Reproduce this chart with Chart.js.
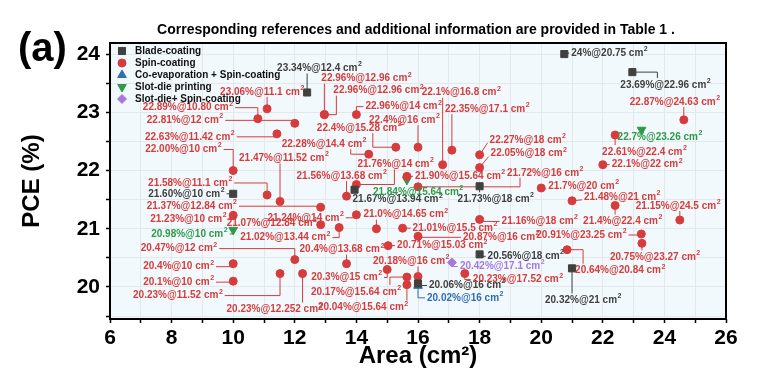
<!DOCTYPE html>
<html>
<head>
<meta charset="utf-8">
<script src="https://cdn.jsdelivr.net/npm/chart.js@4.4.1/dist/chart.umd.min.js"></script>
<style>
  html, body { margin: 0; padding: 0; background: #fff; }
</style>
</head>
<body>
<canvas id="chart" width="758" height="372"></canvas>
<script>
// Values (PCE % and area cm2). Kept as text so the labels keep their digits.
const bladePce  = ['23.34', '24', '23.69', '21.60', '21.67', '21.73', '20.56', '20.06', '20.32'];
const bladeArea = ['12.4', '20.75', '22.96', '10', '13.94', '18', '18', '16', '21'];

const spinPce = ['23.06', '22.89', '22.81', '22.63', '22.00', '21.47', '21.58', '21.37', '21.23', '21.24',
                 '21.07', '21.02', '20.47', '20.4', '20.1', '20.23', '20.23', '22.96', '22.96', '22.96',
                 '22.4', '22.4', '22.28', '22.1', '22.35', '21.76', '21.56', '21.90', '22.27', '22.05',
                 '21.72', '21.7', '22.87', '22.61', '22.1', '21.48', '21.15', '21.4', '20.91', '20.75',
                 '20.64', '21.0', '21.01', '21.16', '20.87', '20.71', '20.4', '20.3', '20.18', '20.17',
                 '20.04', '20.23'];
const spinArea = ['11.1', '10.80', '12', '11.42', '10', '11.52', '11.1', '12.84', '10', '14',
                  '12.84', '13.44', '12', '10', '10', '11.52', '12.252', '12.96', '12.96', '14',
                  '16', '15.28', '14.4', '16.8', '17.1', '14', '13.68', '15.64', '18', '18',
                  '16', '20', '24.63', '22.4', '22', '21', '24.5', '22.4', '23.25', '23.27',
                  '20.84', '14.65', '15.5', '18', '16', '15.03', '13.68', '15', '16', '15.64',
                  '15.64', '17.52'];

const coevapPce = ['20.02'];
const coevapArea = ['16'];

const slotPce = ['22.7', '21.84', '20.98'];
const slotArea = ['23.26', '15.64', '10'];

const slotSpinPce = ['20.42'];
const slotSpinArea = ['17.1'];

const xTicks = [6, 7, 8, 9, 10, 11, 12, 13, 14, 15, 16, 17, 18, 19, 20, 21, 22, 23, 24, 25, 26];
const yTicks = [19.5, 20, 20.5, 21, 21.5, 22, 22.5, 23, 23.5, 24];

// Label placement: [dx, dy, connector, elbow x] in pixels from the point
const bladeLabelPos = [[-30, -24], [7, -1], [-12, 13, 'hv', 25], [-85, 0], [-2, 10], [-22, 13], [8, 2], [11, 2], [-27, 32]];
const spinLabelPos = [
  [-47, -17], [-115, -11], [-148, -3], [-132, 3], [-88, -21], [-41, -43], [-119, -12], [-174, -1], [-83, 4], [-89, 3],
  [-94, -1], [-99, 10], [-154, -11], [-90, 3], [-90, 1], [-147, 22], [-76, 36], [-3, -36], [9, -24, 'hv', 12], [9, -8],
  [-49, -27], [-79, -19, 'hv', -23], [-87, -10, 'hv', -18], [-21, -72], [-7, -41], [1, -20, 'hv', 38], [-50, -20], [8, 0], [10, -15, 'line'], [11, -14, 'line'],
  [89, -14, 'hv', 102], [7, -2, 'line'], [-54, -18], [-13, 17], [9, 0], [12, -4, 'line'], [-44, -14], [-32, 16], [-105, 1], [-32, 14],
  [8, 21, 'hv', 16], [-13, -14], [10, 0], [22, 2], [45, 1], [9, 0], [-47, -14], [-76, 8], [-45, -15], [-96, 15, 'hv', -17],
  [-89, 23], [8, 6]
];
const coevapLabelPos = [[9, 12]];
const slotLabelPos = [[-24, 7], [-34, 12], [-82, 4]];
const slotSpinLabelPos = [[8, 4]];

const series = [
  { name: 'Blade-coating', pce: bladePce, area: bladeArea, pos: bladeLabelPos, color: '#404040', style: 'rect', radius: 5, rotation: 0 },
  { name: 'Spin-coating', pce: spinPce, area: spinArea, pos: spinLabelPos, color: '#d63c3c', style: 'circle', radius: 4, rotation: 0 },
  { name: 'Co-evaporation + Spin-coating', pce: coevapPce, area: coevapArea, pos: coevapLabelPos, color: '#2f6db5', style: 'triangle', radius: 5, rotation: 0 },
  { name: 'Slot-die printing', pce: slotPce, area: slotArea, pos: slotLabelPos, color: '#2e9a48', style: 'triangle', radius: 5, rotation: 180 },
  { name: 'Slot-die+ Spin-coating', pce: slotSpinPce, area: slotSpinArea, pos: slotSpinLabelPos, color: '#a678e0', style: 'rectRot', radius: 4.5, rotation: 0 }
];

const FONT = 'Arial, "Liberation Sans", sans-serif';

function labelText(s, i) {
  return s.pce[i] + '%@' + s.area[i] + ' cm';
}

function labelWidth(ctx, text) {
  ctx.font = 'bold 10px ' + FONT;
  const w = ctx.measureText(text).width;
  ctx.font = 'bold 7px ' + FONT;
  return w + 0.5 + ctx.measureText('2').width;
}

// boxes for every label, worked out from the point pixels
function labelBoxes(chart) {
  const ctx = chart.ctx;
  const out = [];
  series.forEach((s, si) => {
    const meta = chart.getDatasetMeta(si);
    s.pce.forEach((p, i) => {
      const pt = meta.data[i];
      const [dx, dy, kind, cx] = s.pos[i];
      const text = labelText(s, i);
      const w = labelWidth(ctx, text);
      out.push({ s, text, px: pt.x, py: pt.y, left: pt.x + dx, right: pt.x + dx + w, cy: pt.y + dy, kind, cx });
    });
  });
  return out;
}

const annotate = {
  id: 'annotate',
  beforeDraw(chart) {
    const { ctx, chartArea: a } = chart;
    ctx.save();
    ctx.fillStyle = '#f2f9fd';
    ctx.fillRect(a.left, a.top, a.right - a.left, a.bottom - a.top);
    ctx.restore();
  },
  beforeDatasetsDraw(chart) {
    const ctx = chart.ctx;
    ctx.save();
    ctx.lineWidth = 1;
    labelBoxes(chart).forEach(b => {
      ctx.strokeStyle = b.s.color;
      const above = b.cy < b.py;
      const edgeY = above ? b.cy + 5 : b.cy - 7;
      ctx.beginPath();
      ctx.moveTo(b.px, b.py);
      if (b.kind === 'line') {
        ctx.lineTo(b.left - 2, b.cy + 3);
      } else if (b.kind === 'hv') {
        ctx.lineTo(b.px + b.cx, b.py);
        ctx.lineTo(b.px + b.cx, edgeY);
      } else if (b.px >= b.left && b.px <= b.right) {
        ctx.lineTo(b.px, edgeY);
      } else {
        ctx.lineTo(b.px, b.cy);
        ctx.lineTo(b.px < b.left ? b.left - 2 : b.right + 2, b.cy);
      }
      ctx.stroke();
    });
    ctx.restore();
  },
  afterDatasetsDraw(chart) {
    const { ctx, chartArea: a } = chart;
    ctx.save();
    // point labels
    ctx.textAlign = 'left';
    ctx.textBaseline = 'middle';
    labelBoxes(chart).forEach(b => {
      ctx.fillStyle = b.s.color;
      ctx.font = 'bold 10px ' + FONT;
      ctx.fillText(b.text, b.left, b.cy);
      const w = ctx.measureText(b.text).width;
      ctx.font = 'bold 7px ' + FONT;
      ctx.fillText('2', b.left + w + 0.5, b.cy - 4);
    });

    // legend
    series.forEach((s, i) => {
      const y = 51 + i * 12;
      ctx.fillStyle = s.color;
      ctx.strokeStyle = s.color;
      ctx.lineWidth = 1;
      Chart.helpers.drawPoint(ctx, { pointStyle: s.style, radius: s.radius, rotation: s.rotation, borderWidth: 1 }, 122, y);
      ctx.fillStyle = '#111';
      ctx.font = 'bold 10px ' + FONT;
      ctx.fillText(s.name, 135, y);
    });

    // frame
    ctx.strokeStyle = '#000';
    ctx.lineWidth = 2;
    ctx.strokeRect(a.left, a.top, a.right - a.left, a.bottom - a.top);
    ctx.restore();
  },
  afterDraw(chart) {
    const ctx = chart.ctx;
    ctx.save();
    ctx.fillStyle = '#000';
    ctx.textBaseline = 'middle';
    ctx.textAlign = 'center';
    ctx.font = 'bold 14px ' + FONT;
    ctx.fillText('Corresponding references and additional information are provided in Table 1 .', 416, 30);
    ctx.textAlign = 'left';
    ctx.font = 'bold 40px ' + FONT;
    ctx.fillText('(a)', 18, 50);
    ctx.restore();
  }
};

new Chart(document.getElementById('chart'), {
  type: 'scatter',
  data: {
    datasets: series.map(s => ({
      label: s.name,
      data: s.area.map((v, i) => ({ x: parseFloat(v), y: parseFloat(s.pce[i]) })),
      pointStyle: s.style,
      pointRadius: s.radius,
      rotation: s.rotation,
      backgroundColor: s.color,
      borderColor: s.color,
      borderWidth: 1
    }))
  },
  options: {
    responsive: false,
    animation: false,
    layout: { padding: { left: 0, top: 43, right: 32, bottom: 0 } },
    plugins: { legend: { display: false }, tooltip: { enabled: false } },
    scales: {
      x: {
        type: 'linear', min: 6, max: 26,
        afterFit(scale) { scale.height = 53; },
        afterBuildTicks(scale) { scale.ticks = xTicks.map(v => ({ value: v })); },
        ticks: { color: '#000', padding: 3, font: { family: FONT, size: 21, weight: 'bold' },
                 callback: v => (v % 2 === 0 ? v : '') },
        grid: { color: '#e2e8ec', tickColor: '#000', tickLength: 4, tickWidth: 1.5 },
        border: { display: false },
        title: { display: true, text: 'Area (cm²)', color: '#000', padding: { top: 0, bottom: 1 },
                 font: { family: FONT, size: 24, weight: 'bold' } }
      },
      y: {
        type: 'linear', min: 19.45, max: 24.19,
        afterFit(scale) { scale.width = 110; },
        afterBuildTicks(scale) { scale.ticks = yTicks.map(v => ({ value: v })); },
        ticks: { color: '#000', padding: 6, font: { family: FONT, size: 21, weight: 'bold' },
                 callback: v => (v % 1 === 0 ? v : '') },
        grid: { color: '#e2e8ec', tickColor: '#000', tickLength: 4, tickWidth: 1.5 },
        border: { display: false },
        title: { display: true, text: 'PCE (%)', color: '#000', padding: { top: 18, bottom: 0 },
                 font: { family: FONT, size: 24, weight: 'bold' } }
      }
    }
  },
  plugins: [annotate]
});
</script>
</body>
</html>
